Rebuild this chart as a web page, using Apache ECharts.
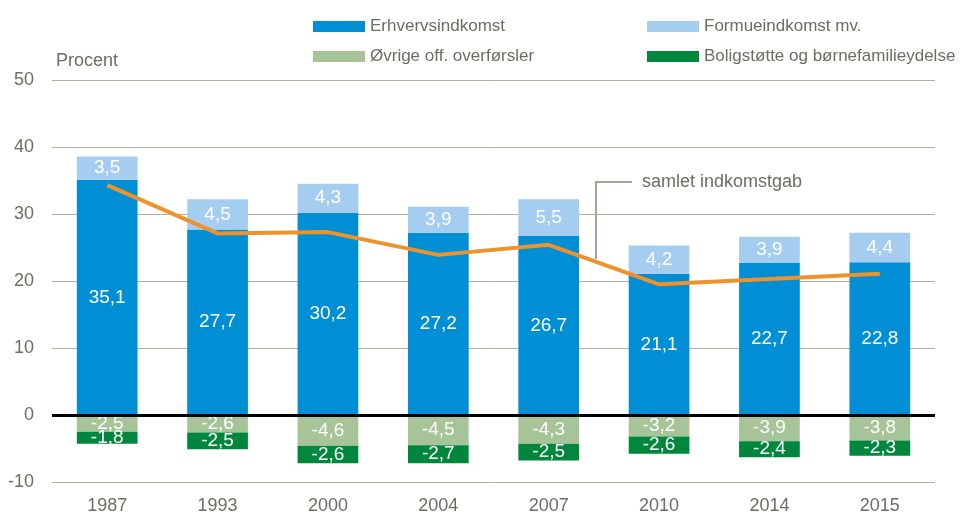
<!DOCTYPE html>
<html><head><meta charset="utf-8">
<script src="https://cdn.jsdelivr.net/npm/echarts@6/dist/echarts.min.js"></script>
<style>html,body{margin:0;padding:0;background:#fff}#c{width:962px;height:515px}</style>
</head><body><div id="c"></div>
<script>
const years = ['1987','1993','2000','2004','2007','2010','2014','2015'];
const erhverv = [35.1, 27.7, 30.2, 27.2, 26.7, 21.1, 22.7, 22.8];
const formue = [3.5, 4.5, 4.3, 3.9, 5.5, 4.2, 3.9, 4.4];
const ovrige = [-2.5, -2.6, -4.6, -4.5, -4.3, -3.2, -3.9, -3.8];
const bolig = [-1.8, -2.5, -2.6, -2.7, -2.5, -2.6, -2.4, -2.3];
const samlet = [34.3, 27.1, 27.3, 23.9, 25.4, 19.5, 20.3, 21.1];
const yTicks = [-10, 0, 10, 20, 30, 40, 50];

const FONT = '"Liberation Sans",Arial,sans-serif';
const GRAY = '#6f6d60';
const chart = echarts.init(document.getElementById('c'));
const fmt = p => String(p.value).replace('.', ',');
const lbl = {show: true, position: 'inside', color: '#fff', fontSize: 19, fontFamily: FONT, formatter: fmt};
function bar(name, data, color) {
  return {name, type: 'bar', stack: 'a', data, barWidth: '55%',
    itemStyle: {color}, label: lbl, emphasis: {disabled: true}};
}
chart.setOption({
  animation: false,
  textStyle: {fontFamily: FONT},
  grid: {left: 52, right: 27, top: 80, bottom: 33},
  legend: [
    {left: 308, top: 13, orient: 'vertical', itemWidth: 52, itemHeight: 11, itemGap: 13,
     icon: 'rect', data: ['Erhvervsindkomst', 'Øvrige off. overførsler'],
     textStyle: {color: GRAY, fontSize: 17, fontFamily: FONT}},
    {left: 642, top: 13, orient: 'vertical', itemWidth: 52, itemHeight: 11, itemGap: 13,
     icon: 'rect', data: ['Formueindkomst mv.', 'Boligstøtte og børnefamilieydelse'],
     textStyle: {color: GRAY, fontSize: 17, fontFamily: FONT}}
  ],
  xAxis: {type: 'category', data: years,
    axisLine: {show: false, onZero: false}, axisTick: {show: false},
    axisLabel: {color: GRAY, fontSize: 18, margin: 15, fontFamily: FONT}},
  yAxis: {type: 'value', min: -10, max: 50, interval: 10,
    name: 'Procent', nameLocation: 'end', nameGap: 10,
    nameTextStyle: {color: GRAY, fontSize: 18, align: 'left', padding: [0, 0, 0, 4], fontFamily: FONT},
    axisLabel: {color: GRAY, fontSize: 18, margin: 18, fontFamily: FONT,
      formatter: v => yTicks.includes(v) ? String(v) : ''},
    splitLine: {lineStyle: {color: '#b3af9f', width: 1}},
    axisLine: {show: false}, axisTick: {show: false}},
  series: [
    bar('Erhvervsindkomst', erhverv, '#008fd5'),
    bar('Formueindkomst mv.', formue, '#a5cdef'),
    bar('Øvrige off. overførsler', ovrige, '#a6c497'),
    bar('Boligstøtte og børnefamilieydelse', bolig, '#00873d'),
    {name: 'samlet indkomstgab', type: 'line', data: samlet, showSymbol: false, symbol: 'none',
     lineStyle: {color: '#f0922b', width: 4}, z: 5,
     markLine: {silent: true, symbol: 'none', label: {show: false},
       lineStyle: {color: '#000', width: 3, type: 'solid'}, data: [{yAxis: 0}]}}
  ],
  graphic: [
    {type: 'polyline', shape: {points: [[632, 182], [596, 182], [596, 259]]},
     style: {stroke: '#a9a596', lineWidth: 2, fill: null}},
    {type: 'text', left: 642, top: 173,
     style: {text: 'samlet indkomstgab', fill: GRAY, fontSize: 18, fontFamily: FONT}}
  ]
});
</script></body></html>
